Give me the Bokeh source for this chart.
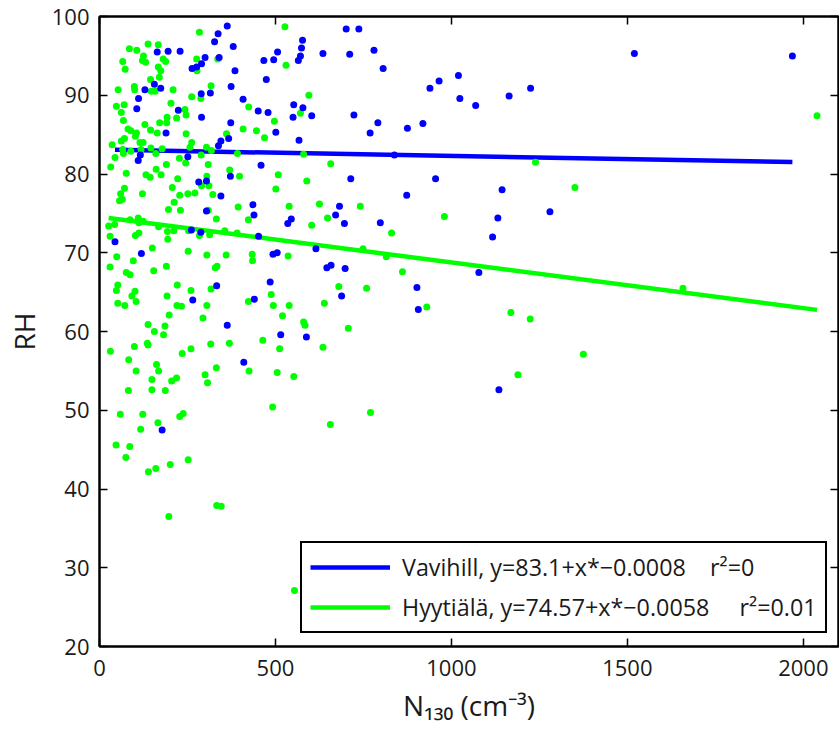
from bokeh.plotting import figure
from bokeh.models import Range1d, LinearAxis, FixedTicker, Legend, LegendItem
from bokeh.embed import file_html
from bokeh.resources import INLINE

# ---------------- data ----------------
vav_x = [363, 337, 327, 701, 737, 380, 577, 574, 571, 565, 506, 495, 467, 635, 711, 780, 806, 474, 385, 340,
         300, 263, 276, 290, 229, 195, 164, 156, 174, 129, 111, 106, 289, 315, 374, 408, 552, 578, 550, 603,
         451, 479, 224, 290, 373, 189, 251, 338, 345, 367, 501, 567, 116, 110, 282, 304, 345, 372, 459, 714,
         873, 304, 436, 439, 545, 535, 671, 682, 696, 798, 44, 261, 288, 452, 119, 493, 505, 615, 646, 658,
         698, 902, 906, 265, 333, 440, 485, 688, 363, 515, 588, 410, 178, 1135, 1520, 1969, 939, 965, 1020, 1024,
         1069, 1164, 1225, 919, 955, 1144, 1280, 1132, 1117, 1078, 723, 791, 769, 875, 838]
vav_y = [98.8, 97.8, 96.8, 98.4, 98.4, 96.2, 97.0, 96.0, 95.0, 94.4, 95.5, 94.5, 94.4, 95.3, 95.2, 95.7, 93.4, 92.0, 93.1, 94.8,
         94.8, 93.4, 93.6, 94.0, 95.6, 95.6, 95.5, 91.4, 90.9, 90.7, 89.6, 88.3, 90.2, 90.3, 91.1, 89.5, 88.8, 88.4, 87.2, 87.4,
         88.0, 87.8, 88.1, 87.2, 86.5, 85.2, 82.2, 83.6, 84.2, 84.5, 85.3, 84.3, 82.4, 81.7, 79.0, 79.1, 77.2, 79.7, 81.1, 79.4,
         77.3, 75.3, 76.1, 74.8, 74.3, 73.7, 74.8, 75.9, 73.7, 73.8, 71.4, 72.9, 72.6, 72.1, 69.9, 69.8, 70.0, 70.5, 68.1, 68.4,
         68.0, 65.6, 62.8, 64.0, 65.8, 64.1, 66.3, 64.5, 60.8, 59.6, 59.3, 56.1, 47.5, 52.6, 95.3, 95.0, 90.9, 91.8, 92.5, 89.6,
         88.7, 89.9, 90.9, 86.4, 79.4, 78.0, 75.2, 74.4, 72.0, 67.5, 87.5, 86.5, 85.2, 85.8, 82.4]

hyy_x = [284, 527, 530, 336, 277, 276, 167, 138, 85, 106, 66, 73, 125, 122, 131, 181, 188, 167, 174, 170,
         145, 147, 158, 99, 100, 53, 209, 70, 48, 62, 68, 203, 262, 288, 317, 424, 595, 571, 497, 243,
         246, 219, 192, 191, 171, 129, 145, 164, 81, 89, 105, 102, 71, 62, 36, 115, 124, 246, 262, 257,
         304, 318, 289, 361, 408, 446, 469, 580, 392, 178, 146, 118, 89, 66, 68, 44, 32, 160, 227, 245,
         190, 161, 175, 132, 144, 76, 309, 305, 311, 290, 322, 370, 398, 508, 501, 589, 657, 222, 207, 228,
         251, 271, 212, 196, 230, 71, 60, 65, 57, 122, 309, 332, 423, 394, 539, 603, 625, 648, 741, 830,
         26, 43, 30, 87, 110, 112, 124, 102, 112, 168, 193, 211, 194, 253, 284, 313, 356, 391, 150, 252,
         49, 30, 96, 305, 360, 434, 435, 536, 749, 815, 861, 329, 334, 190, 154, 76, 87, 52, 48, 52,
         72, 101, 92, 104, 221, 192, 260, 220, 233, 305, 317, 423, 488, 494, 539, 639, 680, 759, 520, 580,
         584, 707, 294, 198, 138, 156, 182, 186, 369, 316, 136, 138, 99, 31, 235, 260, 464, 512, 635, 83,
         162, 168, 104, 149, 205, 219, 332, 425, 505, 552, 300, 307, 82, 149, 187, 492, 59, 123, 228, 238,
         166, 117, 47, 86, 75, 160, 139, 201, 252, 197, 333, 346, 554, 656, 770, 1189, 2039, 1239, 1351, 980,
         1658, 930, 1169, 1224, 1375]
hyy_y = [98.0, 98.7, 93.8, 94.6, 93.1, 94.6, 96.4, 96.5, 95.9, 95.7, 94.3, 93.3, 95.0, 94.4, 94.2, 94.6, 94.3, 93.6, 93.1, 92.3,
         92.0, 90.5, 90.5, 91.1, 90.7, 90.7, 90.7, 88.8, 88.6, 87.8, 86.8, 89.0, 89.8, 89.6, 91.2, 88.5, 90.0, 87.7, 86.7, 88.2,
         87.5, 87.1, 87.2, 86.5, 86.5, 86.3, 85.6, 85.2, 85.7, 85.5, 85.2, 84.8, 84.5, 84.2, 83.7, 84.0, 84.0, 85.1, 84.0, 83.4,
         83.4, 83.0, 82.4, 85.1, 85.7, 85.5, 84.6, 82.5, 82.6, 83.2, 83.3, 83.1, 82.9, 83.1, 82.6, 82.1, 80.9, 82.6, 82.0, 81.4,
         81.2, 80.6, 79.9, 79.9, 79.6, 80.1, 81.2, 79.7, 78.5, 78.5, 77.4, 80.5, 79.7, 79.9, 78.1, 79.1, 81.3, 79.4, 78.3, 77.3,
         77.5, 77.6, 76.4, 75.5, 75.4, 78.2, 77.5, 76.8, 76.6, 77.5, 75.4, 74.3, 74.2, 75.8, 75.9, 73.5, 76.2, 74.4, 75.9, 72.5,
         73.4, 73.6, 72.1, 74.2, 74.4, 73.8, 74.0, 72.2, 72.5, 73.3, 72.7, 72.8, 71.7, 72.8, 72.2, 72.3, 72.8, 72.5, 70.6, 70.2,
         69.5, 68.2, 69.0, 69.7, 69.7, 69.8, 69.0, 69.6, 70.5, 69.5, 67.6, 68.1, 68.3, 68.3, 67.7, 67.5, 67.2, 65.9, 65.2, 63.6,
         63.3, 65.1, 64.5, 63.8, 65.9, 64.5, 65.2, 63.3, 63.2, 63.3, 65.4, 63.8, 64.7, 63.3, 63.3, 63.6, 65.7, 65.5, 62.0, 61.2,
         60.8, 60.4, 61.7, 62.1, 60.9, 60.0, 59.6, 60.7, 58.5, 58.4, 58.5, 58.3, 58.1, 57.5, 57.2, 57.8, 58.9, 57.8, 58.0, 56.4,
         55.8, 55.0, 55.0, 53.9, 53.7, 54.1, 55.4, 55.0, 54.8, 54.3, 54.5, 53.5, 52.5, 52.6, 52.5, 50.4, 49.5, 49.5, 49.2, 49.6,
         48.4, 47.6, 45.6, 45.4, 44.0, 42.6, 42.2, 43.1, 43.7, 36.5, 37.9, 37.8, 27.1, 48.2, 49.7, 54.5, 87.4, 81.5, 78.3, 74.6,
         65.5, 63.1, 62.4, 61.6, 57.1]

# linear fits shown in the legend: y = intercept + x * slope
vav_intercept, vav_slope, vav_r2 = 83.1, -0.0008, "0"
hyy_intercept, hyy_slope, hyy_r2 = 74.57, -0.0058, "0.01"

x_ticks = [0, 500, 1000, 1500, 2000]
y_ticks = [20, 30, 40, 50, 60, 70, 80, 90, 100]

FONT = "Open Sans"
TXT = "#1a1a1a"
BLUE = "#0000ff"
GREEN = "#00ff00"

p = figure(width=839, height=740, output_backend="svg", toolbar_location=None,
           x_range=Range1d(0, 2100), y_range=Range1d(20, 100),
           min_border_left=99, min_border_right=1, min_border_top=16, min_border_bottom=94)
p.xgrid.visible = False
p.ygrid.visible = False
p.outline_line_color = "black"
p.outline_line_width = 2
p.background_fill_color = "white"
p.border_fill_color = "white"

for ax in (p.xaxis[0], p.yaxis[0]):
    ax.major_tick_in = 8
    ax.major_tick_out = 0
    ax.minor_tick_line_color = None
    ax.axis_line_width = 2
    ax.axis_line_color = "black"
    ax.major_tick_line_width = 1.5
    ax.major_tick_line_color = "black"
    ax.major_label_text_font = FONT
    ax.major_label_text_font_size = "22px"
    ax.major_label_text_color = TXT
    ax.axis_label_text_font = FONT
    ax.axis_label_text_font_style = "normal"
    ax.axis_label_text_font_size = "28px"
    ax.axis_label_text_color = TXT
p.xaxis[0].ticker = FixedTicker(ticks=x_ticks)
p.yaxis[0].ticker = FixedTicker(ticks=y_ticks)
p.xaxis[0].major_label_standoff = 13
p.yaxis[0].major_label_standoff = 10
p.xaxis[0].axis_label = "N\u2081\u2083\u2080 (cm\u207b\u00b3)"
p.xaxis[0].axis_label_standoff = 7
p.yaxis[0].axis_label = "RH"
p.yaxis[0].axis_label_standoff = 6

for loc, ticks in (("above", x_ticks), ("right", y_ticks)):
    ax = LinearAxis(ticker=FixedTicker(ticks=ticks), major_tick_in=8, major_tick_out=0,
                    minor_tick_line_color=None, axis_line_width=2, axis_line_color="black",
                    major_tick_line_width=1.5, major_tick_line_color="black",
                    major_label_text_font_size="1px", major_label_text_color=None,
                    major_label_standoff=0)
    p.add_layout(ax, loc)

# fit lines
vx = [min(vav_x), max(vav_x)]
hx = [min(hyy_x), max(hyy_x)]
vline = p.line(vx, [vav_intercept + vav_slope * x for x in vx], line_color=BLUE, line_width=4.5)
hline = p.line(hx, [hyy_intercept + hyy_slope * x for x in hx], line_color=GREEN, line_width=4.5)

# scatter
p.scatter(hyy_x, hyy_y, size=7, fill_color=GREEN, line_color=None)
p.scatter(vav_x, vav_y, size=7, fill_color=BLUE, line_color=None)

legend = Legend(items=[
    LegendItem(label=f"Vavihill, y={vav_intercept}+x*\u2212{abs(vav_slope)}" + "\u00a0" * 4 + f"r\u00b2={vav_r2}",
               renderers=[vline]),
    LegendItem(label=f"Hyytiälä, y={hyy_intercept}+x*\u2212{abs(hyy_slope)}" + "\u00a0" * 5 + f"r\u00b2={hyy_r2}",
               renderers=[hline]),
], location=(201, 13), orientation="vertical")
legend.border_line_color = "black"
legend.border_line_alpha = 1
legend.border_line_width = 2
legend.background_fill_color = "white"
legend.background_fill_alpha = 1
legend.label_text_font = FONT
legend.label_text_font_size = "23.3px"
legend.label_text_color = TXT
legend.glyph_width = 80
legend.glyph_height = 24
legend.label_height = 24
legend.label_standoff = 12
legend.spacing = 8
legend.padding = 8
legend.margin = 0
p.add_layout(legend, "center")

open("out.html", "w").write(file_html(p, INLINE))
